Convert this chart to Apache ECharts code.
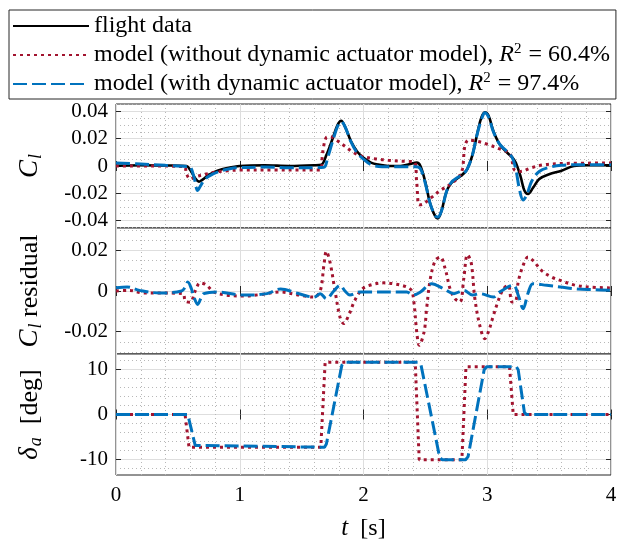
<!DOCTYPE html>
<html>
<head>
<meta charset="utf-8">
<script src="https://cdn.jsdelivr.net/npm/echarts@6/dist/echarts.min.js"></script>
<style>
  html, body { margin: 0; padding: 0; background: #fff; }
  #chart { width: 620px; height: 542px; }
</style>
</head>
<body>
<div id="chart"></div>
<script>
// ---- roll coefficient C_l: flight data and the two model fits ----
const flightClT = [0, 0.2, 0.4, 0.57, 0.60, 0.64, 0.67, 0.70, 0.75, 0.82, 0.9, 1.0, 1.2, 1.4, 1.6, 1.66, 1.70, 1.75, 1.79, 1.82, 1.85, 1.9, 1.95, 2.0, 2.06, 2.12, 2.2, 2.3, 2.38, 2.43, 2.46, 2.5, 2.54, 2.58, 2.60, 2.63, 2.67, 2.71, 2.76, 2.81, 2.84, 2.88, 2.92, 2.95, 2.98, 3.01, 3.05, 3.1, 3.16, 3.2, 3.23, 3.27, 3.30, 3.33, 3.37, 3.42, 3.5, 3.6, 3.7, 3.8, 4.0];
const flightCl  = [0.0002, 0.0006, 0.0004, 0.0, -0.003, -0.009, -0.0115, -0.010, -0.0065, -0.0035, -0.0015, 0.0, 0.0005, 0.0, 0.0005, 0.001, 0.008, 0.020, 0.030, 0.0332, 0.029, 0.018, 0.0105, 0.006, 0.0025, 0.001, 0.0, 0.0, 0.0015, 0.0025, 0.0, -0.012, -0.028, -0.037, -0.0385, -0.033, -0.019, -0.0125, -0.009, -0.0055, -0.002, 0.008, 0.024, 0.035, 0.0395, 0.037, 0.0255, 0.016, 0.0098, 0.0065, 0.0025, -0.008, -0.018, -0.0205, -0.016, -0.0095, -0.006, -0.0035, 0.0, 0.0005, 0.0005];

const noActClT = [0, 0.3, 0.55, 0.57, 0.60, 0.64, 0.7, 0.8, 0.9, 1.0, 1.3, 1.5, 1.65, 1.67, 1.70, 1.73, 1.78, 1.85, 1.9, 1.95, 2.0, 2.1, 2.2, 2.3, 2.41, 2.43, 2.45, 2.48, 2.55, 2.62, 2.7, 2.77, 2.80, 2.82, 2.85, 2.9, 3.0, 3.1, 3.18, 3.20, 3.22, 3.27, 3.35, 3.45, 3.6, 4.0];
const noActCl  = [0.0, 0.0, -0.0005, -0.006, -0.0095, -0.008, -0.0065, -0.0045, -0.0035, -0.003, -0.003, -0.003, -0.003, 0.010, 0.021, 0.0215, 0.019, 0.0145, 0.011, 0.0085, 0.0068, 0.0052, 0.0042, 0.0035, 0.003, -0.012, -0.0285, -0.028, -0.023, -0.018, -0.0135, -0.008, -0.002, 0.015, 0.019, 0.0185, 0.016, 0.0125, 0.0095, 0.004, -0.003, -0.004, -0.0015, 0.0008, 0.0018, 0.0022];

const withActClT = [0, 0.2, 0.4, 0.57, 0.60, 0.63, 0.66, 0.68, 0.72, 0.78, 0.85, 0.92, 1.0, 1.2, 1.4, 1.6, 1.68, 1.71, 1.75, 1.79, 1.82, 1.85, 1.9, 1.95, 2.0, 2.06, 2.15, 2.3, 2.42, 2.46, 2.5, 2.54, 2.58, 2.60, 2.63, 2.67, 2.71, 2.76, 2.81, 2.84, 2.88, 2.92, 2.96, 2.98, 3.01, 3.05, 3.1, 3.15, 3.2, 3.23, 3.26, 3.29, 3.32, 3.36, 3.42, 3.5, 3.6, 3.8, 4.0];
const withActCl  = [0.0022, 0.0015, 0.0005, -0.0003, -0.0008, -0.008, -0.018, -0.015, -0.0095, -0.006, -0.0035, -0.002, -0.0012, -0.0008, -0.0012, -0.0012, -0.001, 0.006, 0.018, 0.029, 0.0325, 0.029, 0.0175, 0.0095, 0.005, 0.001, -0.0005, -0.0005, -0.0005, -0.002, -0.013, -0.028, -0.0365, -0.0375, -0.033, -0.019, -0.012, -0.0085, -0.0055, -0.002, 0.008, 0.024, 0.036, 0.039, 0.036, 0.025, 0.016, 0.0115, 0.0065, -0.002, -0.017, -0.025, -0.021, -0.011, -0.004, -0.001, 0.0005, 0.001, 0.001];

// ---- C_l residuals ----
const noActResT = [0, 0.11, 0.22, 0.36, 0.54, 0.56, 0.60, 0.64, 0.68, 0.73, 0.79, 0.89, 1.03, 1.16, 1.33, 1.46, 1.6, 1.65, 1.68, 1.70, 1.73, 1.77, 1.81, 1.84, 1.88, 1.93, 1.99, 2.05, 2.16, 2.24, 2.35, 2.39, 2.41, 2.43, 2.45, 2.49, 2.51, 2.54, 2.58, 2.62, 2.66, 2.70, 2.74, 2.78, 2.81, 2.84, 2.87, 2.90, 2.94, 2.98, 3.01, 3.05, 3.09, 3.13, 3.17, 3.20, 3.23, 3.25, 3.29, 3.33, 3.37, 3.44, 3.52, 3.59, 3.7, 3.81, 4.0];
const noActRes  = [0.0, 0.0003, -0.001, -0.001, -0.0013, -0.005, -0.0055, 0.0, 0.004, 0.003, -0.0005, -0.002, -0.0025, -0.0018, -0.0005, -0.0018, -0.003, 0.0, 0.0126, 0.0195, 0.014, 0.0, -0.0128, -0.016, -0.012, -0.0046, 0.001, 0.0028, 0.004, 0.0036, 0.002, 0.0, -0.007, -0.020, -0.0267, -0.020, -0.0087, 0.006, 0.015, 0.0167, 0.011, 0.001, -0.0038, -0.0054, 0.006, 0.0179, 0.014, -0.0038, -0.017, -0.0235, -0.020, -0.012, -0.0046, 0.001, 0.0028, -0.0054, -0.005, 0.0044, 0.0126, 0.0167, 0.015, 0.010, 0.0069, 0.0052, 0.003, 0.002, 0.0015];

const withActResT = [0, 0.09, 0.19, 0.36, 0.53, 0.56, 0.58, 0.61, 0.63, 0.66, 0.69, 0.71, 0.81, 1.03, 1.22, 1.33, 1.46, 1.6, 1.65, 1.70, 1.76, 1.81, 1.85, 1.89, 1.97, 2.35, 2.4, 2.46, 2.55, 2.65, 2.73, 2.81, 2.88, 2.94, 3.05, 3.1, 3.21, 3.25, 3.29, 3.33, 3.37, 3.48, 3.59, 3.73, 3.86, 4.0];
const withActRes  = [0.0016, 0.002, 0.0003, -0.001, 0.0, 0.002, 0.0044, 0.001, -0.003, -0.0066, -0.003, -0.0013, -0.0005, -0.002, -0.0013, 0.001, -0.001, -0.003, -0.0013, -0.0038, 0.0, 0.0028, 0.0, -0.002, -0.0005, -0.0005, -0.002, -0.0005, 0.0036, 0.001, -0.0013, 0.0003, -0.002, -0.0013, -0.003, -0.0005, 0.0028, -0.002, -0.0087, -0.001, 0.0036, 0.0028, 0.002, 0.001, 0.0007, 0.0003];

// ---- aileron deflection delta_a [deg] ----
const noActDefT = [0, 0.558, 0.59, 1.655, 1.69, 2.418, 2.45, 2.795, 2.828, 3.18, 3.21, 4.0];
const noActDef  = [0, 0, -7.3, -7.3, 11.65, 11.65, -10.1, -10.1, 10.65, 10.65, 0, 0];

const withActDefT = [0, 0.58, 0.595, 0.64, 0.655, 1.685, 1.70, 1.825, 1.845, 2.445, 2.465, 2.615, 2.635, 2.825, 2.845, 2.975, 2.995, 3.235, 3.25, 3.30, 3.315, 4.0];
const withActDef  = [0, 0, -0.4, -6.9, -7.3, -7.3, -6.6, 11.0, 11.65, 11.65, 11.0, -9.5, -10.1, -10.1, -9.4, 10.0, 10.65, 10.65, 10.0, 0.5, 0, 0];

// ---- axis ticks ----
const clTicks = [-0.04, -0.02, 0, 0.02, 0.04];
const clMinor = [-0.045, -0.035, -0.03, -0.025, -0.015, -0.01, -0.005, 0.005, 0.01, 0.015, 0.025, 0.03, 0.035, 0.045];
const resTicks = [-0.02, 0, 0.02];
const resMinor = [-0.03, -0.025, -0.015, -0.01, -0.005, 0.005, 0.01, 0.015, 0.025, 0.03];
const defTicks = [-10, 0, 10];
const defMinor = [-12, -8, -6, -4, -2, 2, 4, 6, 8, 12];

const seriesNames = [
  'flight data',
  'model (without dynamic actuator model), R2 = 60.4%',
  'model (with dynamic actuator model), R2 = 97.4%'
];

const pair = (ts, vs) => ts.map((t, i) => [t, vs[i]]);

const FONT = 'Liberation Serif';
const INK = '#262626';
const MAJOR = '#dedede';
const MINOR = '#b8b8b8';
const RED = '#A2142F';
const BLUE = '#0072BD';

const panels = [
  { top: 104, height: 124, min: -0.0455, max: 0.0455, ticks: clTicks, minor: clMinor,
    name: '{i|C}{sub|l}' },
  { top: 228, height: 126, min: -0.031, max: 0.031, ticks: resTicks, minor: resMinor,
    name: '{i|C}{sub|l}{n| residual}' },
  { top: 354, height: 125, min: -13.5, max: 13.5, ticks: defTicks, minor: defMinor,
    name: '{g|δ}{sub|a}{n|  [deg]}' }
];

const nameRich = {
  i: { fontFamily: FONT, fontStyle: 'italic', fontSize: 27, color: '#000' },
  g: { fontFamily: FONT, fontStyle: 'italic', fontSize: 27, color: '#000' },
  n: { fontFamily: FONT, fontSize: 26, color: '#000' },
  sub: { fontFamily: FONT, fontStyle: 'italic', fontSize: 18, color: '#000', padding: [12, 0, 0, 1] }
};

const grid = [], xAxis = [], yAxis = [];
panels.forEach((p, k) => {
  grid.push({ left: 116, top: p.top, width: 495, height: p.height, show: true,
    borderColor: INK, borderWidth: 1, backgroundColor: '#fff' });
  const last = k === panels.length - 1;
  xAxis.push({
    gridIndex: k, type: 'value', min: 0, max: 4, interval: 1, position: 'bottom',
    axisLine: { show: false },
    axisTick: { inside: true, length: 5, lineStyle: { color: INK } },
    axisLabel: { show: last, fontFamily: FONT, fontSize: 21, color: '#000', margin: 10 },
    splitLine: { show: true, lineStyle: { color: MAJOR, width: 1 } },
    minorTick: { show: false, splitNumber: 5 },
    minorSplitLine: { show: true, lineStyle: { color: MINOR, width: 1, type: [1, 3] } },
    name: last ? '{i|t}{n|  [s]}' : '',
    nameLocation: 'middle', nameGap: 41,
    nameTextStyle: { rich: {
      i: { fontFamily: FONT, fontStyle: 'italic', fontSize: 25, color: '#000' },
      n: { fontFamily: FONT, fontSize: 24, color: '#000' }
    } }
  });
  xAxis.push({
    gridIndex: k, type: 'value', min: 0, max: 4, interval: 1, position: 'top',
    axisLine: { show: false },
    axisTick: { inside: true, length: 5, lineStyle: { color: INK } },
    axisLabel: { show: false }, splitLine: { show: false }
  });
  // major ticks, labels and solid grid lines
  yAxis.push({
    gridIndex: k, type: 'value', min: p.min, max: p.max, position: 'left',
    axisLine: { show: false },
    axisTick: { inside: true, length: 5, lineStyle: { color: INK }, customValues: p.ticks },
    axisLabel: { customValues: p.ticks, fontFamily: FONT, fontSize: 21, color: '#000', margin: 8 },
    splitLine: { show: true, lineStyle: { color: MAJOR, width: 1 } },
    name: p.name, nameLocation: 'middle', nameRotate: 90, nameGap: 71,
    nameTextStyle: { rich: nameRich }
  });
  // dotted minor grid lines
  yAxis.push({
    gridIndex: k, type: 'value', min: p.min, max: p.max, position: 'left', offset: 0,
    axisLine: { show: false },
    axisTick: { show: false, customValues: p.minor },
    axisLabel: { show: false },
    splitLine: { show: true, lineStyle: { color: MINOR, width: 1, type: [1, 3] } }
  });
  // tick marks on the right edge
  yAxis.push({
    gridIndex: k, type: 'value', min: p.min, max: p.max, position: 'right',
    axisLine: { show: false },
    axisTick: { inside: true, length: 5, lineStyle: { color: INK }, customValues: p.ticks },
    axisLabel: { show: false }, splitLine: { show: false }
  });
});

function line(name, data, k, style, smooth) {
  return {
    name, type: 'line', xAxisIndex: 2 * k, yAxisIndex: 3 * k, data,
    symbol: 'none', smooth: smooth, lineStyle: style, clip: true, z: 3
  };
}
const blackStyle = { color: '#000', width: 2.6, type: 'solid' };
const redStyle = { color: RED, width: 3, type: [3, 4], cap: 'butt' };
const blueStyle = { color: BLUE, width: 3, type: [14, 5], cap: 'butt' };

const series = [
  line(seriesNames[0], pair(flightClT, flightCl), 0, blackStyle, 0.35),
  line(seriesNames[1], pair(noActClT, noActCl), 0, redStyle, 0.35),
  line(seriesNames[2], pair(withActClT, withActCl), 0, blueStyle, 0.35),
  line(seriesNames[1], pair(noActResT, noActRes), 1, redStyle, 0.35),
  line(seriesNames[2], pair(withActResT, withActRes), 1, blueStyle, 0.35),
  line(seriesNames[1], pair(noActDefT, noActDef), 2, redStyle, false),
  line(seriesNames[2], pair(withActDefT, withActDef), 2, blueStyle, false)
];

const chart = echarts.init(document.getElementById('chart'), null, { renderer: 'canvas' });
chart.setOption({
  animation: false,
  backgroundColor: '#fff',
  grid, xAxis, yAxis, series,
  legend: {
    data: seriesNames, orient: 'vertical', left: 9, top: 10,
    itemWidth: 76, itemHeight: 14, itemGap: 4,
    padding: [4, 6, 3, 3],
    borderColor: INK, borderWidth: 1, borderRadius: 0, backgroundColor: '#fff',
    selectedMode: false,
    itemStyle: { color: 'rgba(0,0,0,0)', borderColor: 'rgba(0,0,0,0)', borderWidth: 0, opacity: 0 },
    formatter: (name) => {
      const m = name.match(/^(.*), R2 = (.*)$/);
      return m ? m[1] + ', {i|R}{sup|2} = ' + m[2] : name;
    },
    textStyle: {
      fontFamily: FONT, fontSize: 24, color: '#000', lineHeight: 24,
      rich: {
        i: { fontFamily: FONT, fontStyle: 'italic', fontSize: 24, color: '#000' },
        sup: { fontFamily: FONT, fontSize: 15, color: '#000', padding: [0, 1, 11, 0] }
      }
    }
  }
});
</script>
</body>
</html>
